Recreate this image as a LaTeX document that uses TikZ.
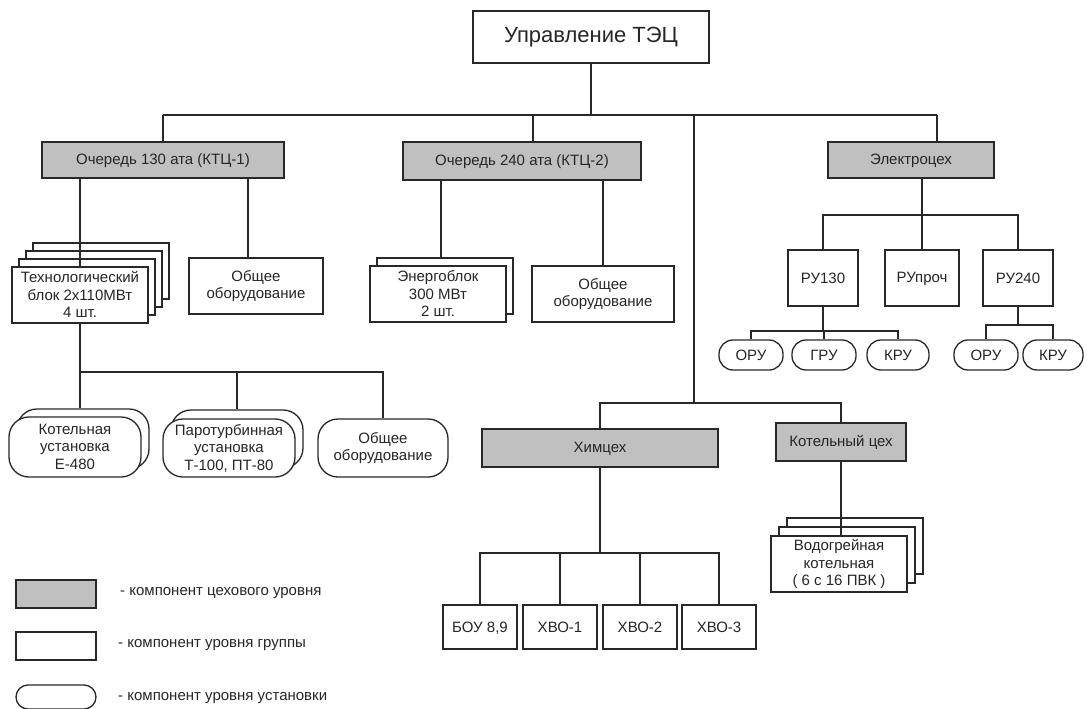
\documentclass[tikz,border=0pt]{standalone}
\usepackage{fontspec}
\setmainfont{Liberation Sans}
\definecolor{shop}{RGB}{192,192,192}
\definecolor{ln}{RGB}{40,40,40}
\newcommand\mystrut{\rule[-0.5pt]{0pt}{12.5pt}}
\tikzset{
 base/.style={draw=ln, line width=1.3pt, inner sep=0pt, align=center, text=black!85, font=\fontsize{15}{17.5}\selectfont, execute at begin node=\mystrut, execute at end node=\mystrut},
 shopbox/.style={base, fill=shop, rectangle},
 grpbox/.style={base, fill=white, rectangle},
 unitbox/.style={base, fill=white, rounded corners=#1},
 unitbox/.default=14pt,
 sz/.style 2 args={minimum width=#1pt, minimum height=#2pt},
 conn/.style={draw=ln, line width=1.3pt},
 legtext/.style={anchor=west, inner sep=0pt, text=black!85, font=\fontsize{15}{17}\selectfont},
}
\begin{document}
\begin{tikzpicture}[x=1pt,y=-1pt]
\useasboundingbox (0,0) rectangle (1087,709);

% top
\node[grpbox, sz={236}{52}, font=\fontsize{22}{26}\selectfont] (top) at (591,37) {Управление ТЭЦ};

% shop level
\node[shopbox, sz={242}{36}] (q1) at (163,160) {Очередь 130 ата (КТЦ-1)};
\node[shopbox, sz={238}{38}] (q2) at (522,161) {Очередь 240 ата (КТЦ-2)};
\node[shopbox, sz={166}{36}] (el) at (911,160) {Электроцех};
\node[shopbox, sz={236}{38}] (him) at (600,448) {Химцех};
\node[shopbox, sz={130}{38}] (kc) at (841,442) {Котельный цех};

% group level, queue 1
\node[grpbox, sz={136}{56}] (techd) at (101,271) {};
\node[grpbox, sz={136}{56}] (techc) at (94,279) {};
\node[grpbox, sz={136}{56}] (techb) at (87,287) {};
\node[grpbox, sz={136}{56}] (tech) at (80,295) {Технологический\\блок 2х110МВт\\4 шт.};
\node[grpbox, sz={134}{56}] (ob1) at (256,286) {Общее\\оборудование};

% group level, queue 2
\node[grpbox, sz={136}{56}] (ebb) at (445,286) {};
\node[grpbox, sz={136}{56}] (eb) at (438,294) {Энергоблок\\300 МВт\\2 шт.};
\node[grpbox, sz={142}{56}] (ob2) at (603,294) {Общее\\оборудование};

% electro
\node[grpbox, sz={70}{56}] (ru130) at (823,278) {РУ130};
\node[grpbox, sz={74}{56}] (rup) at (922,278) {РУпроч};
\node[grpbox, sz={70}{56}] (ru240) at (1018,278) {РУ240};
\node[unitbox, sz={64}{30}] (oru1) at (751,355) {ОРУ};
\node[unitbox, sz={64}{30}] (gru) at (824,355) {ГРУ};
\node[unitbox, sz={62}{30}] (kru1) at (898,355) {КРУ};
\node[unitbox, sz={64}{30}] (oru2) at (986,355) {ОРУ};
\node[unitbox, sz={60}{30}] (kru2) at (1053,355) {КРУ};

% chem
\node[grpbox, sz={74}{44}] (bou) at (480,627) {БОУ 8,9};
\node[grpbox, sz={74}{44}] (hvo1) at (560,627) {ХВО-1};
\node[grpbox, sz={74}{44}] (hvo2) at (640,627) {ХВО-2};
\node[grpbox, sz={74}{44}] (hvo3) at (719,627) {ХВО-3};

% boiler
\node[grpbox, sz={136}{56}] (vodc) at (855,546) {};
\node[grpbox, sz={136}{56}] (vodb) at (847,555) {};
\node[grpbox, sz={136}{56}] (vod) at (839,564) {Водогрейная\\котельная\\( 6 с 16 ПВК )};

% unit level under tech block
\node[unitbox=20pt, sz={132}{60}] (kotb) at (83,439) {};
\node[unitbox=20pt, sz={132}{60}] (kot) at (75,447) {Котельная\\установка\\Е-480};
\node[unitbox=20pt, sz={132}{58}] (parb) at (237,439) {};
\node[unitbox=20pt, sz={132}{58}] (par) at (229,448) {Паротурбинная\\установка\\Т-100, ПТ-80};
\node[unitbox=20pt, sz={130}{58}] (ob3) at (383,448) {Общее\\оборудование};

% legend
\node[shopbox, sz={80}{28}] (lg1) at (56,594) {};
\node[grpbox, sz={80}{28}] (lg2) at (56,646) {};
\node[unitbox=12pt, sz={80}{24}] (lg3) at (56,697) {};
\node[legtext] (lt1) at (120,593) {- компонент цехового уровня};
\node[legtext] (lt2) at (118,645) {- компонент уровня группы};
\node[legtext] (lt3) at (118,698) {- компонент уровня установки};

% connectors
\coordinate (busL) at (163,115);
\coordinate (busR) at (937,115);
\coordinate (b2) at (533,115);
\coordinate (b3) at (694,115);
\draw[conn] (top.south) -- (top.south |- busL);
\draw[conn] (busL) -- (busR);
\draw[conn] (q1.north) -- (q1.north |- busL);
\draw[conn] (b2) -- (b2 |- q2.north);
\draw[conn] (busR) -- (busR |- el.north);

\coordinate (hb) at (694,403);
\draw[conn] (b3) -- (hb);
\draw[conn] (him.north) -- (him.north |- hb) -| (kc.north);

% queue 1
\coordinate (q1r) at (248,178);
\draw[conn] (q1.south -| tech.north) -- (tech.north);
\draw[conn] (q1r) -- (q1r |- ob1.north);
\coordinate (tb) at (80,372);
\draw[conn] (tech.south) -- (tech.south |- kotb.north);
\draw[conn] (tech.south |- tb) -- (ob3.north |- tb) -- (ob3.north);
\draw[conn] (parb.north) -- (parb.north |- tb);

% queue 2
\coordinate (q2l) at (441,180);
\draw[conn] (q2l) -- (q2l |- ebb.north);
\draw[conn] (ob2.north) -- (ob2.north |- q2.south);

% electro
\coordinate (eb1) at (922,215);
\draw[conn] (rup.north |- el.south) -- (rup.north);
\draw[conn] (ru130.north) -- (ru130.north |- eb1) -- (ru240.north |- eb1) -- (ru240.north);
\coordinate (r1b) at (824,331);
\draw[conn] (ru130.south) -- (ru130.south |- r1b);
\draw[conn] (oru1.north) -- (oru1.north |- r1b) -- (kru1.north |- r1b) -- (kru1.north);
\draw[conn] (gru.north) -- (gru.north |- r1b);
\coordinate (r2b) at (1019,325);
\draw[conn] (ru240.south) -- (ru240.south |- r2b);
\draw[conn] (oru2.north) -- (oru2.north |- r2b) -- (kru2.north |- r2b) -- (kru2.north);

% chem
\coordinate (cb) at (600,553);
\draw[conn] (him.south) -- (him.south |- cb);
\draw[conn] (bou.north) -- (bou.north |- cb) -- (hvo3.north |- cb) -- (hvo3.north);
\draw[conn] (hvo1.north) -- (hvo1.north |- cb);
\draw[conn] (hvo2.north) -- (hvo2.north |- cb);

% boiler
\draw[conn] (kc.south) -- (kc.south |- vod.north);
\end{tikzpicture}
\end{document}
